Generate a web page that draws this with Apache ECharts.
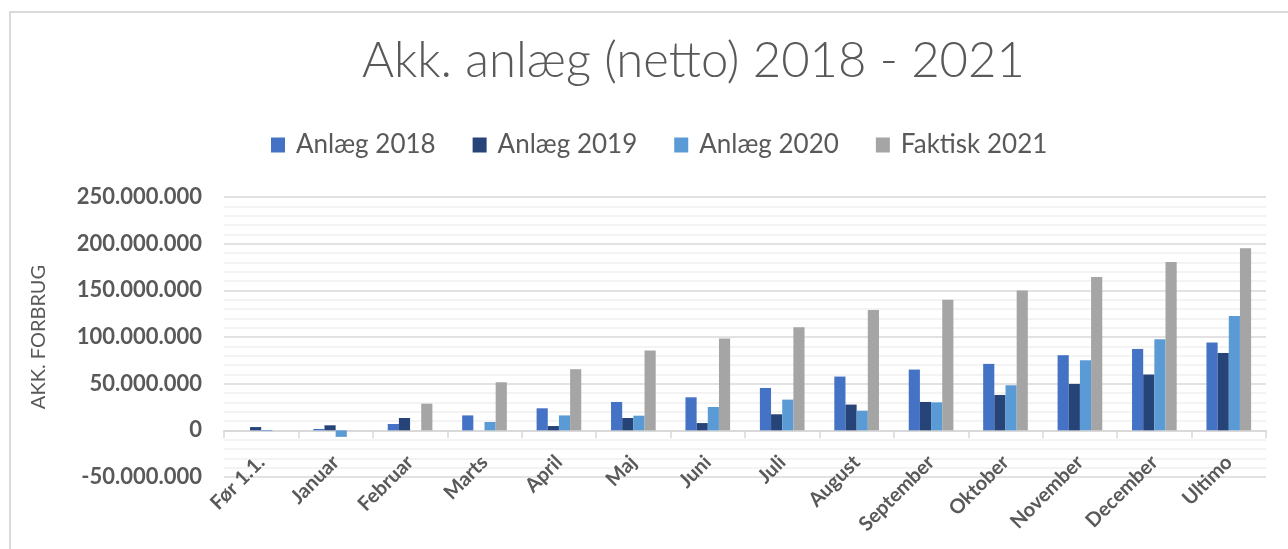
<!DOCTYPE html>
<html lang="da">
<head>
    <meta charset="UTF-8">
    <title>Akk. anlæg</title>
    <script src="https://cdn.jsdelivr.net/npm/echarts@6/dist/echarts.min.js"></script>
    <style>
        html, body { margin: 0; padding: 0; background: #fff; overflow: hidden; }
        #frame { position: absolute; left: 9px; top: 11px; width: 2000px; height: 1000px; border: 2px solid #d9d9d9; box-sizing: border-box; }
        #main { position: absolute; left: 0; top: 0; width: 1288px; height: 549px; }
    </style>
</head>
<body>
<div id="frame"></div>
<div id="main"></div>
<script type="text/javascript">
    // kategorier og serier (kr.)
    var maaneder = ['Før 1.1.', 'Januar', 'Februar', 'Marts', 'April', 'Maj', 'Juni', 'Juli',
        'August', 'September', 'Oktober', 'November', 'December', 'Ultimo'];
    var anlaeg2018 = [0, 1500000, 6800000, 16000000, 23600000, 30400000, 35400000, 45400000,
        57600000, 65100000, 71200000, 80500000, 87200000, 94100000];
    var anlaeg2019 = [3500000, 5400000, 13200000, 0, 4600000, 13200000, 7800000, 17200000,
        27600000, 30400000, 37900000, 49700000, 59800000, 82900000];
    var anlaeg2020 = [-800000, -7000000, 0, 8900000, 16000000, 15700000, 25000000, 32900000,
        21100000, 30000000, 48300000, 75100000, 97600000, 122600000];
    var faktisk2021 = [0, 0, 28600000, 51500000, 65500000, 85500000, 98400000, 110500000,
        129000000, 139800000, 149900000, 164200000, 180300000, 195000000];

    var myChart = echarts.init(document.getElementById('main'));

    function tal(v) {
        var s = Math.abs(v).toString().replace(/\B(?=(\d{3})+(?!\d))/g, '.');
        return (v < 0 ? '-' : '') + s;
    }

    var option = {
        animation: false,
        textStyle: { fontFamily: 'Lato' },
        color: ['#4472C4', '#264478', '#5B9BD5', '#A5A5A5'],
        title: {
            text: 'Akk. anlæg (netto) 2018 - 2021',
            left: 357,
            top: 32,
            textStyle: { fontFamily: 'Lato', fontWeight: 300, fontSize: 49, color: '#595959' }
        },
        legend: {
            top: 127,
            left: 266,
            itemWidth: 14,
            itemHeight: 15,
            itemGap: 37,
            icon: 'rect',
            textStyle: { fontFamily: 'Lato', fontSize: 26, color: '#595959', padding: [0, 0, 0, 6] }
        },
        grid: { left: 224, right: 22, top: 197, bottom: 72, outerBoundsMode: 'none' },
        xAxis: {
            type: 'category',
            data: maaneder,
            axisLine: { onZero: true, lineStyle: { color: '#d9d9d9', width: 2 } },
            axisTick: { show: true, length: 8, lineStyle: { color: '#d9d9d9', width: 1.5 } },
            axisLabel: {
                rotate: 45,
                margin: -18,
                interval: 0,
                fontFamily: 'Lato',
                fontWeight: 'bold',
                fontSize: 20,
                color: '#595959'
            }
        },
        yAxis: {
            type: 'value',
            min: -50000000,
            max: 250000000,
            interval: 50000000,
            name: 'AKK. FORBRUG',
            nameLocation: 'middle',
            nameGap: 175,
            nameRotate: 90,
            nameTextStyle: { fontFamily: 'Lato', fontSize: 20, color: '#595959' },
            axisLine: { show: false },
            axisTick: { show: false },
            axisLabel: {
                formatter: tal,
                margin: 22,
                fontFamily: 'Lato',
                fontWeight: 'bold',
                fontSize: 22,
                color: '#595959'
            },
            splitLine: { lineStyle: { color: '#d9d9d9', width: 1.5 } },
            minorTick: { show: false, splitNumber: 5 },
            minorSplitLine: { show: true, lineStyle: { color: '#f0f0f0', width: 1.5 } }
        },
        series: [
            { name: 'Anlæg 2018', type: 'bar', data: anlaeg2018, barGap: '0%', barCategoryGap: '40%' },
            { name: 'Anlæg 2019', type: 'bar', data: anlaeg2019 },
            { name: 'Anlæg 2020', type: 'bar', data: anlaeg2020 },
            { name: 'Faktisk 2021', type: 'bar', data: faktisk2021 }
        ]
    };

    myChart.setOption(option);
</script>
</body>
</html>
